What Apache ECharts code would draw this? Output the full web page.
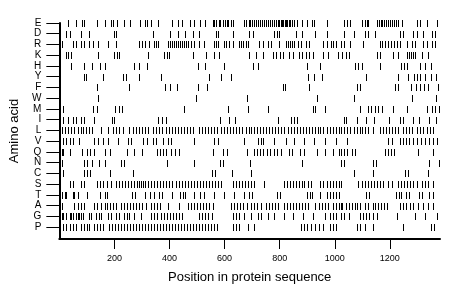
<!DOCTYPE html>
<html>
<head>
<meta charset="utf-8">
<script src="https://cdn.jsdelivr.net/npm/echarts@6/dist/echarts.min.js"></script>
<style>
  html, body { margin: 0; padding: 0; background: #fff; }
  #chart { width: 460px; height: 299px; }
</style>
</head>
<body>
<div id="chart"></div>
<script>
// residue letters, bottom row first
const aminoAcids = ['P', 'G', 'A', 'T', 'S', 'C', 'N', 'Q', 'V', 'L', 'I', 'M', 'W', 'F', 'Y', 'H', 'K', 'R', 'D', 'E'];
const xTicks = [200, 400, 600, 800, 1000, 1200];
const seqLength = 1382;

// positions of each residue in the sequence
const E = [33,62,83,89,138,165,186,194,208,235,256,292,312,319,331,359,409,430,446,473,488,512,530,557,563,570,578,584,593,600,608,614,622,629,671,678,687,693,700,707,714,722,729,736,743,751,758,765,772,780,787,794,799,804,809,813,818,823,828,833,838,844,852,864,882,900,917,923,970,1033,1043,1055,1100,1108,1117,1122,1155,1161,1167,1173,1180,1187,1194,1202,1209,1216,1223,1231,1245,1299,1310,1335,1372];
const D = [26,37,77,106,200,207,341,402,431,457,485,507,569,576,630,688,702,778,789,797,858,880,930,970,1032,1071,1111,1122,1147,1238,1249,1285,1299,1321,1354,1364];
const R = [8,51,62,80,91,106,124,142,178,207,290,301,312,326,344,352,359,395,402,410,417,424,431,438,446,453,460,467,478,489,507,525,561,569,576,598,605,616,630,652,659,666,677,684,724,739,757,767,797,822,829,836,844,851,865,876,894,905,959,970,985,995,1006,1021,1035,1057,1104,1165,1173,1184,1194,1205,1216,1227,1238,1263,1281,1292,1321,1335,1354,1364];
const K = [26,33,44,142,200,211,218,323,381,391,399,485,533,561,580,688,713,739,775,786,800,811,833,847,869,880,894,905,920,959,974,1010,1028,1039,1050,1155,1165,1213,1231,1263,1270,1278,1285,1292,1317,1339];
const H = [44,88,120,149,164,272,290,319,504,529,598,702,721,898,948,1075,1086,1100,1165,1241,1252,1263,1310,1328,1350];
const Y = [88,98,160,232,243,290,370,543,587,623,901,923,952,1115,1231,1267,1288,1299,1310,1328,1350,1368];
const F = [138,254,384,402,428,504,536,811,818,905,1082,1090,1220,1231,1278,1296,1310,1325,1339,1375];
const W = [142,496,681,934,1071,1281,1368];
const M = [15,124,135,203,218,229,453,612,684,757,920,930,963,1093,1122,1133,1147,1158,1173,1213,1263,1335,1354,1364,1379];
const I = [1,15,33,51,62,77,91,127,192,200,359,373,388,583,616,637,793,840,851,862,1032,1042,1082,1115,1144,1198,1238,1249,1285,1307,1343,1368];
const L = [8,22,33,44,55,66,77,87,98,109,120,153,178,196,207,218,232,254,268,279,290,301,312,323,341,352,362,373,388,399,410,420,431,442,453,464,475,485,507,518,529,540,550,561,572,587,598,608,619,630,641,652,663,677,688,695,706,717,728,739,749,760,771,782,793,804,814,829,840,851,862,873,883,894,905,916,927,938,948,959,970,981,992,1003,1014,1024,1035,1046,1057,1068,1079,1090,1100,1111,1122,1140,1165,1176,1187,1198,1209,1220,1231,1249,1260,1270,1281,1299,1310,1321,1335,1346,1357];
const V = [1,15,26,37,48,73,127,142,160,178,214,250,261,304,319,341,352,377,395,406,489,561,576,670,721,731,739,778,822,851,887,923,966,1003,1046,1194,1209,1238,1249,1260,1270,1285,1299,1314,1328,1343,1357,1372];
const Q = [1,8,15,40,84,102,113,127,167,185,247,272,301,355,366,377,388,406,420,435,558,594,608,681,706,717,728,739,753,764,778,789,804,833,844,873,887,934,966,995,1014,1024,1035,1046,1061,1075,1184,1194,1205,1216,1303,1357];
const N = [1,8,91,102,120,145,164,225,236,391,489,583,594,692,880,1024,1035,1137,1151,1343,1379];
const C = [12,91,102,113,185,268,554,565,627,695,1068,1137,1256,1267,1339];
const S = [37,48,80,91,138,149,160,174,189,207,218,229,240,250,261,272,283,290,297,305,312,323,333,344,355,366,377,388,399,410,424,435,446,457,467,478,489,500,511,522,532,543,554,565,576,587,630,641,652,663,674,684,695,706,742,814,826,836,847,858,869,880,887,901,912,948,959,970,981,992,1003,1014,1024,1086,1100,1111,1122,1133,1144,1155,1165,1176,1194,1209,1231,1241,1252,1263,1274,1285,1299,1317,1328,1339,1357];
const T = [1,8,19,26,48,55,66,102,149,164,174,265,276,312,330,344,362,373,410,438,449,457,489,511,525,561,598,634,670,688,699,789,800,898,909,916,945,970,981,995,1003,1014,1115,1126,1223,1234,1241,1260,1270,1307,1317,1343,1357];
const A = [1,8,55,66,77,91,127,138,153,164,174,185,196,207,225,236,247,258,268,279,290,301,315,333,344,355,366,395,435,467,478,489,500,511,522,532,543,558,623,634,645,655,666,681,695,706,717,731,749,760,771,782,793,814,826,836,847,858,869,880,891,901,930,941,952,963,974,995,1006,1014,1021,1028,1039,1050,1061,1072,1082,1093,1108,1122,1137,1147,1158,1169,1180,1191,1238,1249,1260,1274,1285,1303,1321,1339,1357];
const G = [8,15,26,37,44,51,59,66,73,80,87,106,116,134,145,153,178,189,207,218,236,247,254,272,297,333,344,355,370,380,391,402,413,424,435,446,507,518,529,540,554,630,641,652,670,695,721,731,757,778,814,847,883,920,966,984,995,1006,1021,1032,1050,1093,1104,1115,1126,1140,1155,1227,1292,1328,1372];
const P = [15,26,37,48,59,80,91,102,109,127,138,149,160,182,192,203,214,225,236,247,258,268,279,290,301,312,323,333,344,355,366,377,388,399,410,420,431,442,453,464,475,485,496,507,518,529,540,550,561,572,630,641,652,684,706,876,887,898,912,927,941,956,981,995,1006,1079,1093,1108,1140,1249,1350,1361];

const rows = [P, G, A, T, S, C, N, Q, V, L, I, M, W, F, Y, H, K, R, D, E];

const marks = [];
rows.forEach((positions, i) => {
  positions.forEach(p => marks.push([p, i]));
});

const chart = echarts.init(document.getElementById('chart'), null, { renderer: 'canvas' });

const axisFont = 'Liberation Sans, Arial, sans-serif';

const option = {
  animation: false,
  grid: { left: 58, right: 20, top: 23, bottom: 60 },
  xAxis: {
    type: 'value',
    min: 0,
    max: seqLength,
    name: 'Position in protein sequence',
    nameLocation: 'middle',
    nameGap: 32,
    nameTextStyle: { color: '#000', fontSize: 13, fontFamily: axisFont },
    splitLine: { show: false },
    axisLine: { onZero: false, lineStyle: { color: '#000', width: 2 } },
    axisTick: { customValues: xTicks, length: 10, lineStyle: { color: '#000', width: 1 } },
    axisLabel: {
      customValues: xTicks,
      color: '#000',
      fontSize: 9,
      margin: 15,
      fontFamily: axisFont,
      formatter: v => String(v)
    }
  },
  yAxis: {
    type: 'value',
    min: -1.1,
    max: 19,
    name: 'Amino acid',
    nameLocation: 'middle',
    nameRotate: 90,
    nameGap: 31,
    nameTextStyle: { color: '#000', fontSize: 13, fontFamily: axisFont },
    splitLine: { show: false },
    axisLine: { show: true, onZero: false, lineStyle: { color: '#000', width: 2 } },
    axisTick: { show: true, customValues: aminoAcids.map((a, i) => i), length: 13, lineStyle: { color: '#000', width: 1 } },
    axisLabel: {
      customValues: aminoAcids.map((a, i) => i),
      color: '#000',
      fontSize: 10,
      margin: 18,
      fontFamily: axisFont,
      formatter: v => aminoAcids[v]
    }
  },
  series: [{
    type: 'custom',
    data: marks,
    renderItem: (params, api) => {
      const pt = api.coord([api.value(0), api.value(1)]);
      return {
        type: 'rect',
        shape: { x: Math.round(pt[0]), y: Math.round(pt[1]) - 3, width: 1, height: 7 },
        style: { fill: '#000' }
      };
    }
  }]
};

chart.setOption(option);
</script>
</body>
</html>
